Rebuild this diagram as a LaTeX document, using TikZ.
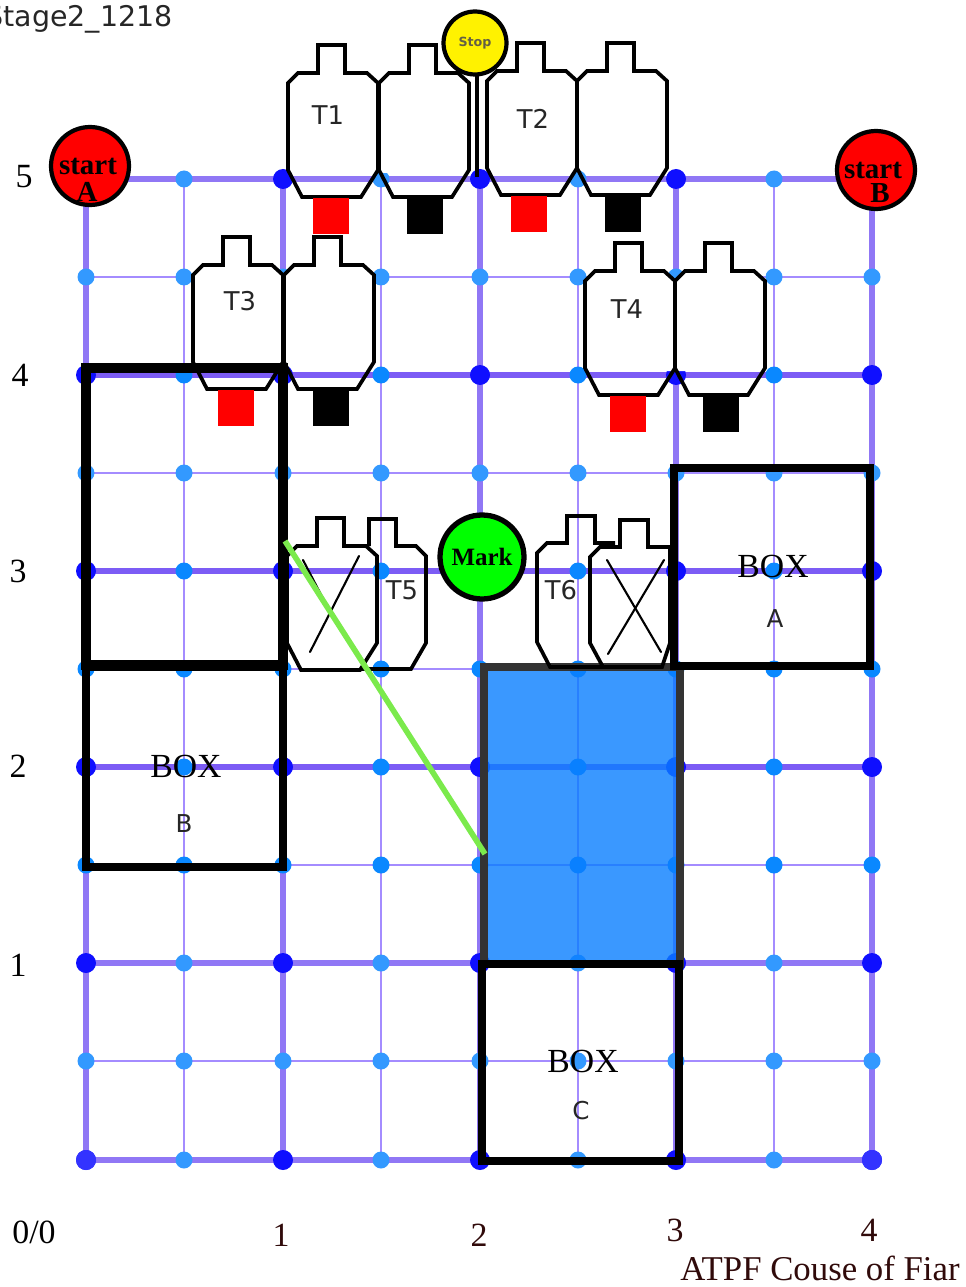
\documentclass[tikz,border=0pt]{standalone}
\usepackage{fontspec}
\setmainfont{Liberation Serif}
\setsansfont{DejaVu Sans}
\usepackage{tikz}
\usetikzlibrary{calc,positioning}
\definecolor{gridlo}{HTML}{9077F5}
\definecolor{gridhi}{HTML}{7C5CF5}
\definecolor{gridthin}{HTML}{A48CFF}
\definecolor{dotlo}{HTML}{3399FF}
\definecolor{dothi}{HTML}{0A88FF}
\definecolor{dotmajor}{HTML}{0F0FFF}
\definecolor{dotcorner}{HTML}{3333FF}
\definecolor{barblue}{HTML}{097EFF}
\definecolor{barrim}{HTML}{333333}
\definecolor{fiarline}{HTML}{7BEA4C}
\definecolor{brownink}{HTML}{300A0A}
\tikzset{
  tgtline/.style={black,line width=2.1pt,line join=miter},
  tgtcross/.style={black,line width=1.2pt,line cap=round},
  heavybox/.style={black,line width=4.6pt},
  bigdot/.style={circle,draw=black,line width=2.4pt,inner sep=0pt,outer sep=0pt},
  tlabel/.style={font=\fontsize{14.7}{16}\sffamily,text=black!85,inner sep=0pt},
  axislabel/.style={font=\fontsize{19.3}{20}\selectfont,inner sep=0pt},
  boxlabel/.style={font=\fontsize{19.2}{20}\selectfont,inner sep=0pt},
  boxletter/.style={font=\fontsize{14}{16}\sffamily,text=black!85,inner sep=0pt},
  startlabel/.style={font=\fontsize{16.5}{18}\selectfont\bfseries,inner sep=0pt},
}
\newcommand{\tgtpath}{(0,38) -- (10,28) -- (30,28) -- (30,0) -- (57,0) -- (57,28) -- (79,28)
  -- (90,38) -- (90,125) -- (73,152) -- (14,152) -- (0,125) -- cycle}
\newcommand{\tgt}[2]{\draw[tgtline,shift={(#1,#2)}] \tgtpath;}
\newcommand{\tgtwhite}[2]{%
  \fill[white,shift={(#1,#2)}] (0,38) -- (10,28) -- (30,28) -- (30,0) -- (57,0) -- (57,28)
    -- (79,28) -- (90,38) -- (90,128) -- (0,128) -- cycle;
  \tgt{#1}{#2}}
\begin{document}
\begin{tikzpicture}[x=0.02cm,y=-0.02cm]
  \useasboundingbox (0,0) rectangle (966,1287);

  \foreach \x in {184,381,578,774} \draw[gridthin,line width=1.2pt] (\x,179) -- (\x,1160);
  \foreach \y in {277,473,669,865,1061} \draw[gridthin,line width=1.2pt] (86,\y) -- (872,\y);
  \foreach \x in {86,283,480,676,872} \draw[gridlo,line width=3.2pt] (\x,179) -- (\x,1160);
  \foreach \y/\c in {179/gridlo,375/gridhi,571/gridhi,767/gridhi,963/gridlo,1160/gridlo}
    \draw[\c,line width=3.2pt] (86,\y) -- (872,\y);

  \foreach \y/\c in {179/dotlo,277/dotlo,375/dothi,473/dotlo,571/dothi,669/dothi,767/dothi,865/dothi,963/dotlo,1061/dotlo,1160/dotlo} {
    \foreach \x in {86,184,283,381,480,578,676,774,872}
      \fill[\c] (\x,\y) circle (8.5);
  }
  \foreach \y in {179,375,571,767,963,1160} {
    \foreach \x in {86,283,480,676,872}
      \fill[dotmajor] (\x,\y) circle (10);
  }
  \fill[dotcorner] (86,1160) circle (10);
  \fill[dotcorner] (872,1160) circle (10);

  \tgtwhite{288}{45}
  \tgtwhite{379}{45}
  \tgtwhite{487}{43}
  \tgtwhite{577}{43}
  \tgtwhite{193}{237}
  \tgtwhite{284}{237}
  \tgtwhite{585}{243}
  \tgtwhite{675}{243}

  \fill[red] (313,198) rectangle (349,234);
  \fill[black] (407,197) rectangle (443,234);
  \fill[red] (511,196) rectangle (547,232);
  \fill[black] (605,195) rectangle (641,232);
  \fill[red] (218,390) rectangle (254,426);
  \fill[black] (313,390) rectangle (349,426);
  \fill[red] (610,396) rectangle (646,432);
  \fill[black] (703,396) rectangle (739,432);

  \fill[barblue,fill opacity=0.8] (484,667) rectangle (680,964);
  \draw[barrim,line width=4.2pt] (484,667) rectangle (680,964);

  \tgt{287}{518}
  \draw[tgtline] (369,546) -- (369,519) -- (396,519) -- (396,546) -- (416,546) -- (426,556)
    -- (426,643) -- (411,669) -- (360,669);
  \draw[tgtline] (615,543) -- (595,543) -- (595,516) -- (567,516) -- (567,543) -- (547,543)
    -- (537,553) -- (537,642) -- (550,667) -- (604,667);
  \draw[tgtline] (590,557) -- (600,547) -- (620,547) -- (620,520) -- (648,520) -- (648,547)
    -- (670,547) -- (670,643) -- (662,667) -- (603,667) -- (590,643) -- cycle;
  \draw[tgtcross] (359,556) -- (310,652);
  \draw[tgtcross] (303,560) -- (330,612);
  \draw[tgtcross] (607,560) -- (661,652);
  \draw[tgtcross] (664,560) -- (608,654);

  \draw[heavybox,line width=5.4pt] (86,368) rectangle (283,665);
  \draw[heavybox,line width=4pt] (86,667) rectangle (283,867);
  \draw[heavybox] (674,468) rectangle (870,666);
  \draw[heavybox] (482,964) rectangle (679,1161);

  \coordinate (fiarA) at (285,541);
  \coordinate (fiarB) at (485,854);
  \draw[fiarline,line width=3.2pt] (fiarA) -- (fiarB);

  \node[bigdot,fill=red,minimum size=1.56cm] (startA) at (90,166) {};
  \node[bigdot,fill=red,minimum size=1.56cm] (startB) at (876,170) {};
  \node[startlabel] (startAtop) at (88,166) {start};
  \node[startlabel] (startAsub) at (87,192) {A};
  \node[startlabel] (startBtop) at (873,170) {start};
  \node[startlabel] (startBsub) at (880,193) {B};

  \node[bigdot,fill=yellow,minimum size=1.26cm] (stop) at (475,43) {};
  \node[font=\fontsize{7.2}{8}\sffamily\bfseries,text=black!70!yellow,inner sep=0pt] (stoptext) at (475,43) {Stop};
  \coordinate (stopbase) at (477,177);
  \draw[black,line width=2.6pt] (477,75) -- (stopbase);

  \node[bigdot,fill=green,line width=3pt,minimum size=1.68cm] (mark) at (482,557) {};
  \node[font=\fontsize{14.2}{16}\selectfont\bfseries,inner sep=0pt] (marktext) at (482,557) {Mark};

  \node[tlabel] (tA) at (328,115) {T1};
  \node[tlabel] (tB) at (533,119) {T2};
  \node[tlabel] (tC) at (240,301) {T3};
  \node[tlabel] (tD) at (627,309) {T4};
  \node[tlabel] (tE) at (402,590) {T5};
  \node[tlabel] (tF) at (561,590) {T6};

  \node[boxlabel] (boxA) at (773,566) {BOX};
  \node[boxletter] (letterA) at (775,619) {A};
  \node[boxlabel] (boxB) at (186,766) {BOX};
  \node[boxletter] (letterB) at (184,824) {B};
  \node[boxlabel] (boxC) at (583,1061) {BOX};
  \node[boxletter] (letterC) at (581,1111) {C};

  \node[axislabel] (yfive) at (24,177) {5};
  \node[axislabel] (yfour) at (20,375) {4};
  \node[axislabel] (ythree) at (18,571) {3};
  \node[axislabel] (ytwo) at (18,766) {2};
  \node[axislabel] (yone) at (18,965) {1};
  \node[axislabel] (origin) at (34,1232) {0/0};
  \node[axislabel,text=brownink] (xone) at (281,1235) {1};
  \node[axislabel,text=brownink] (xtwo) at (479,1235) {2};
  \node[axislabel,text=brownink] (xthree) at (675,1230) {3};
  \node[axislabel,text=brownink] (xfour) at (869,1230) {4};
  \node[font=\fontsize{19.8}{21}\selectfont,text=brownink,inner sep=0pt,anchor=east] (course) at (960,1268) {ATPF Couse of Fiar};
  \node[font=\fontsize{16.2}{18}\sffamily,text=black!85,inner sep=0pt,anchor=east] (stage) at (173,19) {Stage2\_1218};
\end{tikzpicture}
\end{document}
